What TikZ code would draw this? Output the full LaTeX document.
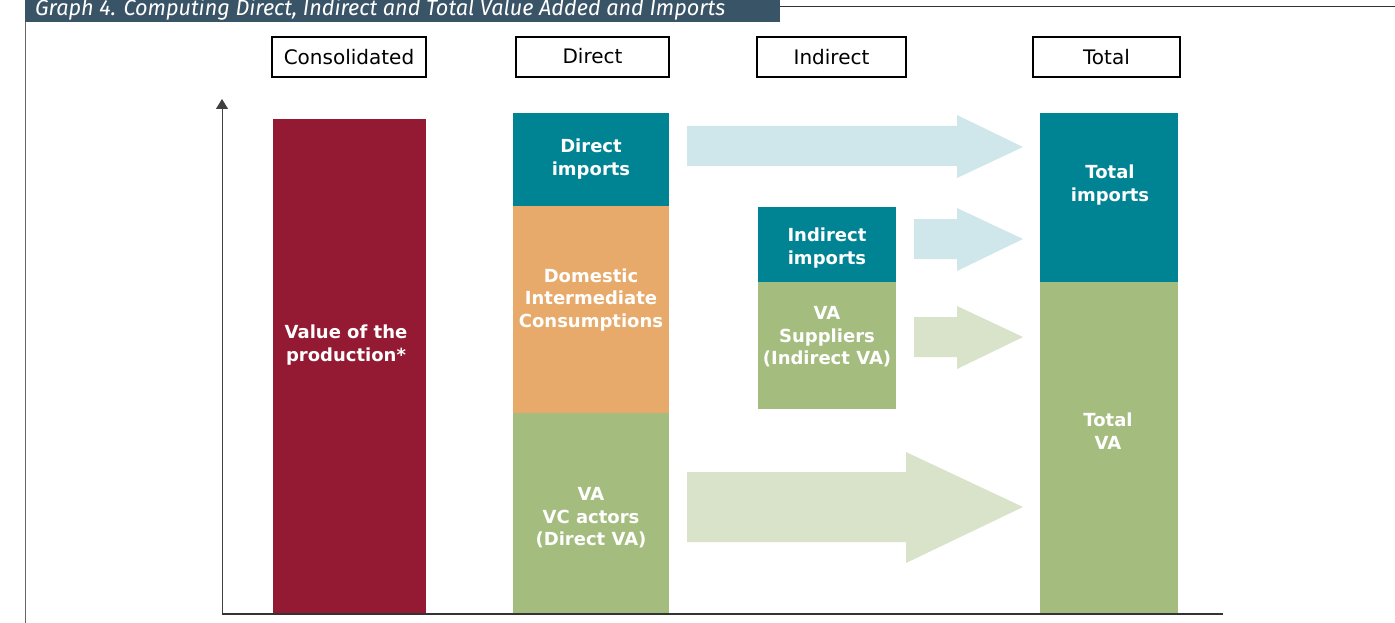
\documentclass[tikz,border=0pt]{standalone}
\usepackage{fontspec}
\setmainfont{DejaVu Sans}
\newfontfamily\titlefont{Fira Sans}
\usetikzlibrary{arrows.meta}
\definecolor{eccrimson}{HTML}{931A32}
\definecolor{ecteal}{HTML}{008494}
\definecolor{ecorange}{HTML}{E8AA6A}
\definecolor{ecgreen}{HTML}{A5BC7F}
\definecolor{lblue}{HTML}{CFE7EB}
\definecolor{lgreen}{HTML}{D9E3C9}
\definecolor{titlebg}{HTML}{3A5467}
\tikzset{
  bar/.style={anchor=north west, inner sep=0pt, text=white, align=center,
    font=\fontsize{18}{22.5}\selectfont\bfseries},
  headbox/.style={draw=black, line width=1.4pt, fill=white, inner sep=0pt,
    font=\fontsize{20}{21}\selectfont},
}
\begin{document}
\begin{tikzpicture}[x=1pt,y=-1pt]
\useasboundingbox (0,0) rectangle (1395,623);
% frame and title
\draw[gray!80!black, line width=1pt] (25,22) -- (25,623);
\draw[black!80, line width=0.8pt] (780,6) -- (1395,6);
\fill[titlebg] (25,-5) rectangle (780,22);
\node[anchor=base west, inner sep=0pt, text=white, font=\titlefont\fontsize{22}{22}\selectfont\itshape] (title) at (35,16) {\scalebox{0.985}[1]{Graph 4. Computing Direct, Indirect and Total Value Added and Imports}};
% headers
\node[headbox, minimum width=154pt, minimum height=40pt] (hcons) at (349,57) {Consolidated};
\node[headbox, minimum width=153pt, minimum height=40pt] (hdir) at (592.5,57) {\raisebox{1.5pt}{Direct}};
\node[headbox, minimum width=149pt, minimum height=40pt] (hind) at (831.5,57) {Indirect};
\node[headbox, minimum width=147pt, minimum height=40pt] (htot) at (1106.5,57) {Total};
% arrows (light)
\fill[lblue] (687,126) -- (957,126) -- (957,115) -- (1023,147) -- (957,178) -- (957,166) -- (687,166) -- cycle;
\fill[lblue] (914,219) -- (957,219) -- (957,208) -- (1023,239) -- (957,271) -- (957,259) -- (914,259) -- cycle;
\fill[lgreen] (914,317) -- (957,317) -- (957,306) -- (1023,337) -- (957,369) -- (957,357) -- (914,357) -- cycle;
\fill[lgreen] (687,472) -- (906,472) -- (906,452) -- (1023,507) -- (906,563) -- (906,542) -- (687,542) -- cycle;
% bars
\node[bar, fill=eccrimson, minimum width=153pt, minimum height=495pt] (vp) at (273,119) {};
\node[bar, fill=ecteal, minimum width=156pt, minimum height=93pt] (dimp) at (513,113) {};
\node[bar, fill=ecorange, minimum width=156pt, minimum height=207pt] (dic) at (513,206) {};
\node[bar, fill=ecgreen, minimum width=156pt, minimum height=201pt] (dva) at (513,413) {};
\node[bar, fill=ecteal, minimum width=138pt, minimum height=75pt] (iimp) at (758,207) {};
\node[bar, fill=ecgreen, minimum width=138pt, minimum height=127pt] (iva) at (758,282) {};
\node[bar, fill=ecteal, minimum width=138pt, minimum height=169pt] (timp) at (1040,113) {};
\node[bar, fill=ecgreen, minimum width=138pt, minimum height=332pt] (tva) at (1040,282) {};
% labels
\node[bar, anchor=center] (lvp) at (346,345) {Value of the\\production*};
\node[bar, anchor=center] (ldimp) at (591,159) {Direct\\imports};
\node[bar, anchor=center] (ldic) at (591,300) {Domestic\\Intermediate\\Consumptions};
\node[bar, anchor=center] (ldva) at (591,518) {VA\\VC actors\\(Direct VA)};
\node[bar, anchor=center] (liimp) at (827,248) {Indirect\\imports};
\node[bar, anchor=center] (liva) at (827,337) {VA\\Suppliers\\(Indirect VA)};
\node[bar, anchor=center] (ltimp) at (1110,185) {Total\\imports};
\node[bar, anchor=center] (ltva) at (1108,431) {Total\\VA};
% axes
\coordinate (origin) at (222,614);
\coordinate (ytop) at (222,99);
\coordinate (xend) at (1223,614);
\draw[black!75, line width=1pt, -{Triangle[length=10pt,width=12pt]}] (origin) -- (ytop);
\draw[black!80, line width=1.2pt] (origin) -- (xend);
\end{tikzpicture}
\end{document}
